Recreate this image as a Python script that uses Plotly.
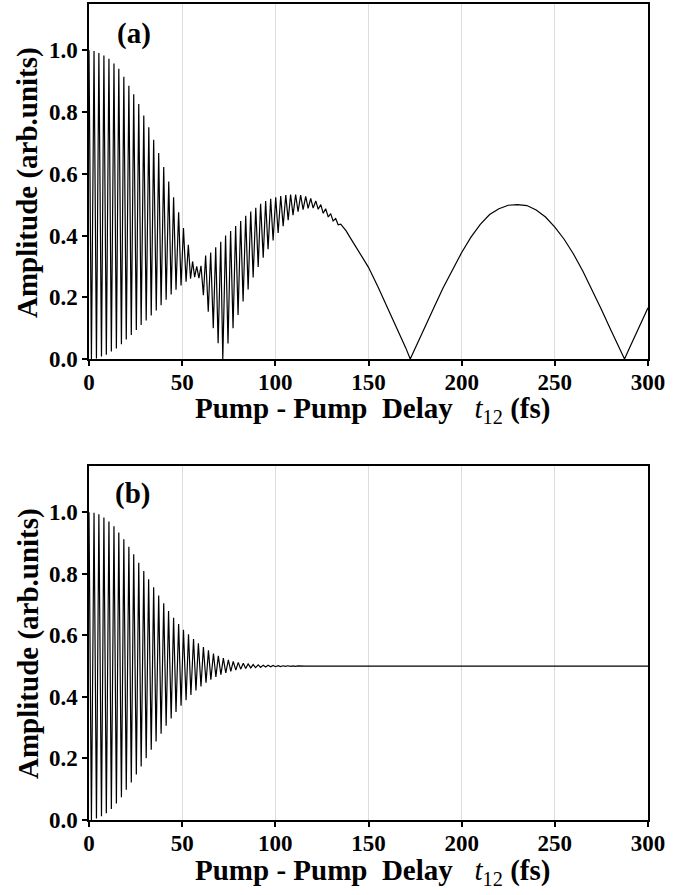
import numpy as np
import plotly.graph_objects as go


# -----------------------------
# DATA
# -----------------------------

# panel (a): fast oscillation maxima / minima, then the slow beat tail
PEAK_T_A = [0.0, 2.7, 5.3, 8.0, 10.7, 13.4, 16.0, 18.7, 21.4, 24.0,
            26.7, 29.4, 32.1, 34.7, 37.4, 40.1, 42.8, 45.4, 48.1, 50.7,
            53.3, 55.6, 57.8, 60.1, 62.6, 65.3, 68.0, 70.7, 73.3, 76.0,
            78.7, 81.4, 84.1, 86.8, 89.5, 92.1, 94.8, 97.5, 100.2, 102.9,
            105.6, 108.2, 110.9, 113.6, 116.3, 119.0, 121.7, 124.4, 127.0, 129.7,
            132.4, 135.1]
PEAK_A = [1.0, 0.998, 0.991, 0.983, 0.973, 0.957, 0.94, 0.914, 0.885, 0.858,
          0.826, 0.789, 0.751, 0.71, 0.667, 0.622, 0.575, 0.524, 0.475, 0.424,
          0.37, 0.316, 0.30, 0.302, 0.335, 0.345, 0.362, 0.38, 0.40, 0.415,
          0.431, 0.447, 0.464, 0.478, 0.49, 0.503, 0.512, 0.519, 0.524, 0.528,
          0.531, 0.533, 0.533, 0.531, 0.527, 0.52, 0.512, 0.50, 0.487, 0.471,
          0.455, 0.437]

TROUGH_T_A = [1.3, 4.0, 6.7, 9.3, 12.0, 14.7, 17.4, 20.0, 22.7, 25.4,
              28.0, 30.7, 33.4, 36.1, 38.7, 41.4, 44.1, 46.7, 49.4, 52.1,
              54.5, 56.7, 59.0, 61.4, 64.0, 66.7, 69.3, 71.8, 74.6, 77.3,
              80.0, 82.7, 85.4, 88.1, 90.8, 93.5, 96.1, 98.8, 101.5, 104.2,
              106.9, 109.5, 112.2, 114.9, 117.6, 120.3, 123.0, 125.7, 128.4, 131.0,
              133.7]
TROUGH_A = [0.0, 0.002, 0.008, 0.014, 0.024, 0.034, 0.048, 0.063, 0.078, 0.094,
            0.11, 0.125, 0.141, 0.157, 0.174, 0.192, 0.209, 0.224, 0.238, 0.25,
            0.26, 0.265, 0.262, 0.207, 0.153, 0.10, 0.051, 0.0, 0.05, 0.10,
            0.143, 0.186, 0.225, 0.264, 0.298, 0.328, 0.356, 0.384, 0.408, 0.43,
            0.45, 0.466, 0.477, 0.484, 0.488, 0.489, 0.485, 0.472, 0.46, 0.447,
            0.435]

TAIL_T_A = [138.0, 140.0, 145.0, 150.0, 155.0, 160.0, 165.0, 170.0, 172.4, 175.0,
            180.0, 185.0, 190.0, 195.0, 200.0, 205.0, 210.0, 215.0, 220.0, 225.0,
            230.0, 235.0, 240.0, 245.0, 250.0, 255.0, 260.0, 265.0, 270.0, 275.0,
            280.0, 285.0, 287.4, 290.0, 295.0, 300.0]
TAIL_A = [0.415, 0.395, 0.348, 0.297, 0.235, 0.17, 0.105, 0.036, 0.0, 0.035,
          0.10, 0.165, 0.23, 0.29, 0.345, 0.395, 0.436, 0.468, 0.487, 0.498,
          0.5, 0.497, 0.483, 0.46, 0.427, 0.388, 0.34, 0.285, 0.225, 0.16,
          0.095, 0.03, 0.0, 0.035, 0.10, 0.166]

# panel (b): decaying oscillation settling on 0.5
PEAK_T_B = [0.0, 2.7, 5.3, 8.0, 10.7, 13.4, 16.0, 18.7, 21.4, 24.0,
            26.7, 29.4, 32.0, 34.7, 37.4, 40.1, 42.7, 45.4, 48.1, 50.7,
            53.4, 56.1, 58.7, 61.4, 64.1, 66.8, 69.4, 72.1, 74.8, 77.4,
            80.1, 82.8, 85.4, 88.1, 90.8, 93.5, 96.1, 98.8, 101.5, 104.1,
            106.8, 109.5, 112.1, 114.8, 117.5]
PEAK_B = [1.0, 0.998, 0.993, 0.983, 0.97, 0.954, 0.934, 0.912, 0.888, 0.863,
          0.836, 0.809, 0.782, 0.756, 0.729, 0.704, 0.679, 0.657, 0.637, 0.618,
          0.603, 0.588, 0.574, 0.562, 0.551, 0.541, 0.533, 0.526, 0.52, 0.515,
          0.512, 0.509, 0.507, 0.505, 0.504, 0.503, 0.5025, 0.502, 0.5015, 0.501,
          0.501, 0.5008, 0.5006, 0.5004, 0.5002]

TROUGH_T_B = [1.3, 4.0, 6.7, 9.3, 12.0, 14.7, 17.4, 20.0, 22.7, 25.4,
              28.0, 30.7, 33.4, 36.0, 38.7, 41.4, 44.1, 46.7, 49.4, 52.1,
              54.7, 57.4, 60.1, 62.8, 65.4, 68.1, 70.8, 73.4, 76.1, 78.8,
              81.4, 84.1, 86.8, 89.4, 92.1, 94.8, 97.5, 100.1, 102.8, 105.5,
              108.1, 110.8, 113.5, 116.1, 118.8]
TROUGH_B = [0.0, 0.005, 0.012, 0.022, 0.036, 0.054, 0.074, 0.098, 0.122, 0.148,
            0.174, 0.201, 0.228, 0.255, 0.28, 0.306, 0.33, 0.351, 0.371, 0.389,
            0.406, 0.421, 0.434, 0.446, 0.456, 0.465, 0.472, 0.478, 0.483, 0.487,
            0.49, 0.492, 0.494, 0.495, 0.496, 0.497, 0.4975, 0.498, 0.4985, 0.499,
            0.499, 0.4992, 0.4994, 0.4996, 0.4998]

TAIL_T_B = [120.0, 300.0]
TAIL_B = [0.5, 0.5]

X_TICKS = [0, 50, 100, 150, 200, 250, 300]
Y_TICKS = [0.0, 0.2, 0.4, 0.6, 0.8, 1.0]


# -----------------------------
# HELPERS
# -----------------------------

W, H = 693, 895
FONT = "Liberation Serif"


def merge_extrema(*pairs):
    # stitch maxima, minima and tail into one time-ordered polyline
    t = np.concatenate([np.asarray(p[0], float) for p in pairs])
    v = np.concatenate([np.asarray(p[1], float) for p in pairs])
    order = np.argsort(t, kind="stable")
    return t[order], v[order]


def px_x(px):
    return px / W


def px_y(py):
    return 1 - py / H


# -----------------------------
# FIGURE
# -----------------------------

ta, va = merge_extrema((PEAK_T_A, PEAK_A), (TROUGH_T_A, TROUGH_A), (TAIL_T_A, TAIL_A))
tb, vb = merge_extrema((PEAK_T_B, PEAK_B), (TROUGH_T_B, TROUGH_B), (TAIL_T_B, TAIL_B))

fig = go.Figure()

fig.add_trace(go.Scatter(x=ta, y=va, mode="lines",
                         line=dict(color="black", width=1.2),
                         xaxis="x", yaxis="y", showlegend=False))
fig.add_trace(go.Scatter(x=tb, y=vb, mode="lines",
                         line=dict(color="black", width=1.2),
                         xaxis="x2", yaxis="y2", showlegend=False))

tick_font = dict(family=FONT, size=23, color="black", weight="bold")

x_common = dict(
    range=[0, 300], tickvals=X_TICKS, ticks="outside", ticklen=5,
    tickwidth=1.5, tickcolor="black", showline=True, linecolor="black",
    linewidth=1.5, mirror=True, showgrid=True, gridcolor="#dddddd",
    gridwidth=1, zeroline=False, automargin=False,
    tickfont=tick_font, ticklabelstandoff=-3,
    domain=[px_x(89), px_x(648)],
)
y_common = dict(
    range=[0, 1.15], tickvals=Y_TICKS, tickformat=".1f", ticks="outside",
    ticklen=5, tickwidth=1.5, tickcolor="black", showline=True,
    linecolor="black", linewidth=1.5, mirror=True, showgrid=False,
    zeroline=False, automargin=False, tickfont=tick_font,
)

fig.update_layout(
    width=W, height=H,
    margin=dict(l=0, r=0, t=0, b=0, autoexpand=False),
    plot_bgcolor="white", paper_bgcolor="white",
    showlegend=False,
    font=dict(family=FONT, color="black"),
    xaxis=dict(x_common, anchor="y"),
    yaxis=dict(y_common, anchor="x", domain=[px_y(359), px_y(4)]),
    xaxis2=dict(x_common, anchor="y2"),
    yaxis2=dict(y_common, anchor="x2", domain=[px_y(820), px_y(466)]),
)

x_title = ("<b>Pump - Pump\u00a0\u00a0Delay</b>\u00a0\u00a0\u00a0"
           "<i>t</i><sub>12</sub> <b>(fs)</b>")
y_title = "<b>Amplitude (arb.units)</b>"

notes = [
    (x_title, 373, 410, 0),
    (x_title, 373, 872, 0),
    (y_title, 28, 183, -90),
    (y_title, 28, 644, -90),
    ("<b>(a)</b>", 134, 33, 0),
    ("<b>(b)</b>", 132, 493, 0),
]
for text, x, y, ang in notes:
    fig.add_annotation(
        text=text, x=px_x(x), y=px_y(y), xref="paper", yref="paper",
        xanchor="center", yanchor="middle", showarrow=False, textangle=ang,
        font=dict(family=FONT, size=29, color="black"),
    )

# page body has a default 8px margin; drop it so the figure sits at 0,0
fig.write_html("out.html", config={"displayModeBar": False},
               post_script="document.body.style.margin='0';")
